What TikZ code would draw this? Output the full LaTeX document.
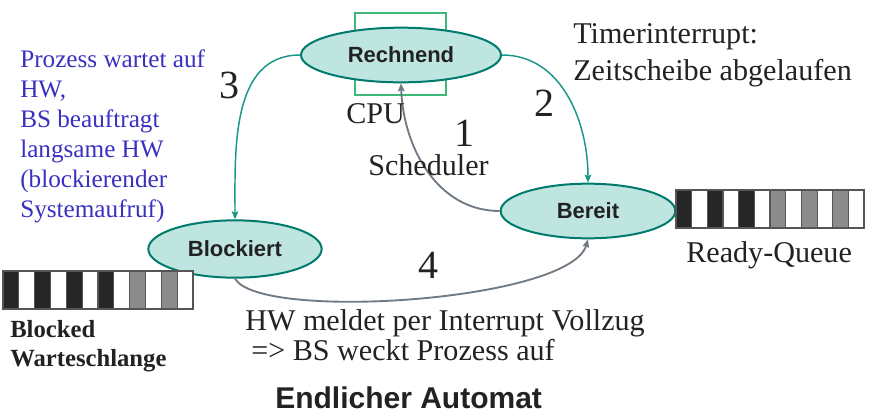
\documentclass[tikz,border=0pt]{standalone}
\usepackage{fontspec}
\setmainfont{Liberation Serif}
\setsansfont{Liberation Sans}
\usetikzlibrary{arrows.meta,calc,shapes.geometric}
\definecolor{tealfill}{RGB}{191,229,225}
\definecolor{tealdraw}{RGB}{0,122,108}
\definecolor{tealarrow}{RGB}{24,150,135}
\definecolor{greyarrow}{RGB}{112,122,132}
\definecolor{cpugreen}{RGB}{60,184,120}
\definecolor{bluetext}{RGB}{58,48,192}
\definecolor{darktext}{RGB}{34,34,34}
\definecolor{qblack}{RGB}{38,38,38}
\definecolor{qgrey}{RGB}{140,140,140}
\definecolor{qedge}{RGB}{85,85,85}
\begin{document}
\begin{tikzpicture}[x=0.75pt,y=-0.75pt,
  state/.style={ellipse, draw=tealdraw, fill=tealfill, line width=1.5pt, inner sep=0pt,
    font=\sffamily\bfseries\fontsize{16.5}{19}\selectfont, text=darktext},
  lbl/.style={anchor=base west, inner sep=0pt, font=\fontsize{22.6}{26}\selectfont, text=darktext},
  num/.style={anchor=base west, inner sep=0pt, text depth=0pt, font=\fontsize{30}{34}\selectfont, text=darktext},
  note/.style={anchor=base west, inner sep=0pt, align=left, font=\fontsize{18.9}{22.5}\selectfont, text=bluetext},
  bq/.style={anchor=base west, inner sep=0pt, font=\bfseries\fontsize{18.5}{22}\selectfont, text=darktext},
  tarrow/.style={draw=tealarrow, line width=1.1pt, -{Stealth[length=6pt,width=5pt,inset=1pt]}},
  garrow/.style={draw=greyarrow, line width=1.4pt, -{Stealth[length=6pt,width=5pt,inset=1pt]}},
  qframe/.style={draw=qedge, line width=0.8pt, fill=white},
  qblk/.style={draw=qedge, line width=0.8pt, fill=qblack},
  qgry/.style={draw=qedge, line width=0.8pt, fill=qgrey}
]
\useasboundingbox (0,0) rectangle (879,418);

% CPU box
\draw[cpugreen, line width=0.8pt] (355,13) rectangle (446,95);

% states
\node[state, minimum width=150pt, minimum height=41pt] (rech) at (401,55) {Rechnend};
\node[state, minimum width=131pt, minimum height=41pt] (ber) at (588,211) {Bereit};
\node[state, minimum width=130pt, minimum height=43pt] (blk) at (235,249) {Blockiert};

% transitions
\draw[tarrow] (rech.east) to[out=0,in=90] (ber.north);
\draw[tarrow] (rech.west) to[out=180,in=90] (blk.north);
\draw[garrow] (ber.west) to[out=180,in=-88] (rech.south);
\draw[garrow] (blk.south) .. controls ($(blk.south)+(25,43)$) and ($(ber.south)+(-18,62)$) .. (ber.south);

% ready queue
\draw[qframe] (676,190) rectangle (864,228);
\foreach \i in {0,2,4} \draw[qblk] (676+\i*15.67,190) rectangle ++(15.67,38);
\foreach \i in {6,8,10} \draw[qgry] (676+\i*15.67,190) rectangle ++(15.67,38);

% blocked queue
\draw[qframe] (3,271) rectangle (193,309);
\foreach \i in {0,2,4,6} \draw[qblk] (3+\i*15.83,271) rectangle ++(15.83,38);
\foreach \i in {8,10} \draw[qgry] (3+\i*15.83,271) rectangle ++(15.83,38);

% texts
\node[lbl] (timer) at (573,43) {Timerinterrupt:};
\node[lbl] (zeit) at (573,80) {Zeitscheibe abgelaufen};
\node[num] (n3) at (219,98) {3};
\node[num] (n2) at (534,116) {2};
\node[num] (n1) at (454,146) {1};
\node[num] (n4) at (418,278) {4};
\node[lbl] (cpu) at (346,123) {CPU};
\node[lbl] (sched) at (368,175) {Scheduler};
\node[lbl] (rq) at (686,262) {Ready-Queue};
\node[lbl] (hw1) at (245,330) {HW meldet per Interrupt Vollzug};
\node[lbl] (hw2) at (251,360) {=> BS weckt Prozess auf};
\node[note] (note) at (20,217) {Prozess wartet auf\\HW,\\BS beauftragt\\langsame HW\\(blockierender\\Systemaufruf)};
\node[bq] (blocked) at (10,337) {Blocked};
\node[bq] (warte) at (10,366) {Warteschlange};
\node[anchor=base west, inner sep=0pt, font=\sffamily\bfseries\fontsize{22.5}{26}\selectfont, text=darktext] (title) at (275,408) {Endlicher Automat};
\end{tikzpicture}
\end{document}
